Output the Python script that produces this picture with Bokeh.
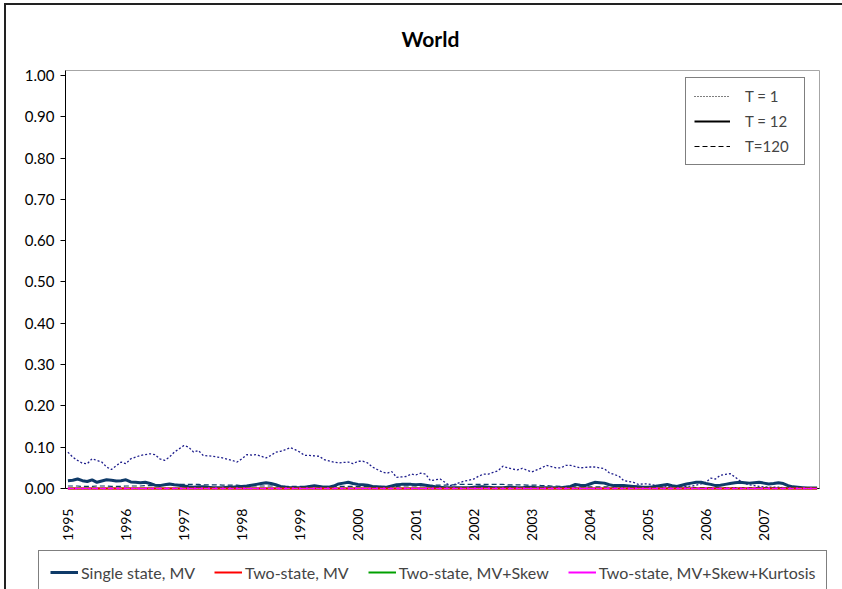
import math
from bokeh.plotting import figure
from bokeh.layouts import column, row
from bokeh.models import Legend, LegendItem, FixedTicker, Range1d, NumeralTickFormatter
from bokeh.embed import file_html
from bokeh.resources import INLINE

# ---------------- data ----------------
years = ["1995", "1996", "1997", "1998", "1999", "2000", "2001",
         "2002", "2003", "2004", "2005", "2006", "2007"]
y_ticks = [0.0, 0.1, 0.2, 0.3, 0.4, 0.5, 0.6, 0.7, 0.8, 0.9, 1.0]

# Single state, MV  (monthly, Jan 1995 - Dec 2007)
single_T1 = [
    0.088, 0.076, 0.068, 0.061, 0.060, 0.072, 0.068, 0.064, 0.052, 0.046,
    0.055, 0.064, 0.060, 0.072, 0.076, 0.080, 0.082, 0.084, 0.082, 0.072,
    0.068, 0.076, 0.088, 0.096, 0.104, 0.100, 0.088, 0.092, 0.080, 0.079,
    0.078, 0.076, 0.074, 0.071, 0.068, 0.064, 0.072, 0.082, 0.081, 0.082,
    0.078, 0.074, 0.080, 0.088, 0.090, 0.094, 0.099, 0.094, 0.088, 0.080,
    0.080, 0.079, 0.078, 0.070, 0.067, 0.064, 0.062, 0.063, 0.064, 0.060,
    0.066, 0.066, 0.062, 0.052, 0.046, 0.040, 0.037, 0.041, 0.027, 0.028,
    0.029, 0.035, 0.033, 0.037, 0.035, 0.019, 0.021, 0.023, 0.015, 0.007,
    0.010, 0.014, 0.018, 0.020, 0.023, 0.030, 0.035, 0.035, 0.039, 0.043,
    0.054, 0.050, 0.047, 0.045, 0.049, 0.044, 0.040, 0.045, 0.050, 0.056,
    0.053, 0.050, 0.050, 0.056, 0.056, 0.053, 0.050, 0.051, 0.052, 0.052,
    0.050, 0.048, 0.038, 0.034, 0.030, 0.019, 0.017, 0.015, 0.010, 0.011,
    0.011, 0.009, 0.007, 0.006, 0.005, 0.006, 0.005, 0.004, 0.005, 0.006,
    0.008, 0.011, 0.015, 0.025, 0.023, 0.032, 0.034, 0.036, 0.028, 0.019,
    0.012, 0.009, 0.007, 0.005, 0.004, 0.003, 0.003, 0.003, 0.002, 0.002,
    0.002, 0.002, 0.001, 0.001, 0.001, 0.001,
]
single_T12 = [
    0.019, 0.020, 0.023, 0.019, 0.017, 0.021, 0.015, 0.018, 0.021, 0.020,
    0.018, 0.019, 0.021, 0.016, 0.015, 0.014, 0.015, 0.012, 0.008, 0.007,
    0.009, 0.011, 0.009, 0.008, 0.006, 0.004, 0.003, 0.004, 0.004, 0.003,
    0.002, 0.002, 0.002, 0.003, 0.003, 0.004, 0.005, 0.006, 0.008, 0.010,
    0.012, 0.014, 0.012, 0.009, 0.005, 0.003, 0.002, 0.002, 0.002, 0.003,
    0.005, 0.007, 0.005, 0.003, 0.003, 0.006, 0.011, 0.013, 0.015, 0.012,
    0.010, 0.009, 0.008, 0.005, 0.004, 0.003, 0.003, 0.006, 0.009, 0.010,
    0.010, 0.010, 0.009, 0.010, 0.008, 0.006, 0.004, 0.003, 0.002, 0.002,
    0.002, 0.002, 0.002, 0.002, 0.003, 0.004, 0.004, 0.003, 0.002, 0.002,
    0.002, 0.003, 0.003, 0.002, 0.002, 0.003, 0.003, 0.002, 0.002, 0.002,
    0.002, 0.002, 0.002, 0.003, 0.005, 0.010, 0.008, 0.007, 0.011, 0.015,
    0.014, 0.013, 0.009, 0.007, 0.007, 0.007, 0.006, 0.005, 0.004, 0.003,
    0.003, 0.004, 0.006, 0.008, 0.010, 0.007, 0.005, 0.008, 0.011, 0.013,
    0.015, 0.015, 0.012, 0.010, 0.007, 0.008, 0.010, 0.012, 0.014, 0.015,
    0.014, 0.013, 0.014, 0.015, 0.013, 0.011, 0.012, 0.014, 0.012, 0.007,
    0.004, 0.003, 0.002, 0.001, 0.001, 0.001,
]
single_T120 = [
    0.006, 0.006, 0.006, 0.005, 0.005, 0.005, 0.006, 0.006, 0.006, 0.005,
    0.005, 0.005, 0.006, 0.006, 0.006, 0.006, 0.007, 0.007, 0.007, 0.008,
    0.008, 0.009, 0.009, 0.010, 0.010, 0.010, 0.010, 0.010, 0.009, 0.009,
    0.009, 0.009, 0.008, 0.008, 0.008, 0.008, 0.007, 0.007, 0.007, 0.006,
    0.006, 0.006, 0.006, 0.006, 0.006, 0.005, 0.005, 0.005, 0.005, 0.005,
    0.005, 0.005, 0.005, 0.005, 0.005, 0.005, 0.005, 0.005, 0.005, 0.005,
    0.005, 0.005, 0.005, 0.005, 0.005, 0.005, 0.005, 0.005, 0.005, 0.006,
    0.006, 0.006, 0.006, 0.006, 0.007, 0.007, 0.008, 0.008, 0.008, 0.009,
    0.009, 0.010, 0.010, 0.010, 0.010, 0.010, 0.010, 0.010, 0.010, 0.010,
    0.010, 0.009, 0.009, 0.009, 0.009, 0.008, 0.008, 0.008, 0.007, 0.007,
    0.006, 0.006, 0.005, 0.005, 0.005, 0.004, 0.004, 0.004, 0.004, 0.004,
    0.004, 0.004, 0.004, 0.003, 0.003, 0.003, 0.003, 0.003, 0.003, 0.003,
    0.003, 0.003, 0.003, 0.003, 0.003, 0.003, 0.003, 0.003, 0.003, 0.003,
    0.002, 0.002, 0.002, 0.002, 0.002, 0.002, 0.002, 0.002, 0.002, 0.002,
    0.002, 0.002, 0.002, 0.002, 0.002, 0.002, 0.002, 0.002, 0.002, 0.002,
    0.002, 0.002, 0.002, 0.002, 0.002, 0.002,
]
# Two-state models: all weights read as zero over the whole period
two_state_mv = [0.0] * len(single_T1)
two_state_skew = [0.0] * len(single_T1)
two_state_kurt = [0.0] * len(single_T1)

month_index = list(range(len(single_T1)))
year_tick_pos = [12 * i for i in range(len(years))]

FONT = "Lato"
NAVY = "#0E3A68"
RED = "#FF0000"
GREEN = "#00A000"
MAGENTA = "#FF00FF"
NAN = float("nan")
DOT = "2 2"
DASH = "5 3"

# ---------------- main figure ----------------
p = figure(width=836, height=542, output_backend="svg", toolbar_location=None,
           x_range=Range1d(-0.5, len(month_index) - 0.5), y_range=Range1d(0, 1.012),
           min_border_left=59, min_border_right=23, min_border_top=65,
           min_border_bottom=59)
p.title.text = "World"
p.title.align = "left"
p.title.offset = 336
p.title.vertical_align = "middle"
p.title.text_font = FONT
p.title.text_font_size = "21px"
p.title.text_font_style = "bold"
p.title.text_color = "#000000"
p.title.standoff = 38

p.outline_line_color = "#A6A6A6"
p.xgrid.visible = False
p.ygrid.visible = False
p.background_fill_color = "white"
p.border_fill_color = "white"

p.yaxis.ticker = FixedTicker(ticks=y_ticks)
p.yaxis.formatter = NumeralTickFormatter(format="0.00")
p.yaxis.major_tick_in = 0
p.yaxis.major_tick_out = 5
p.yaxis.minor_tick_line_color = None
p.yaxis.axis_line_color = "black"
p.yaxis.major_tick_line_color = "black"
p.yaxis.major_label_text_font = FONT
p.yaxis.major_label_text_font_size = "15px"
p.yaxis.major_label_text_color = "black"
p.yaxis.major_label_standoff = 6

p.xaxis.ticker = FixedTicker(ticks=year_tick_pos)
p.xaxis.major_label_overrides = {pos: lab for pos, lab in zip(year_tick_pos, years)}
p.xaxis.major_label_orientation = math.pi / 2
p.xaxis.major_tick_line_color = None
p.xaxis.minor_tick_line_color = None
p.xaxis.major_tick_in = 0
p.xaxis.major_tick_out = 0
p.xaxis.axis_line_color = "black"
p.xaxis.major_label_text_font = FONT
p.xaxis.major_label_text_font_size = "14px"
p.xaxis.major_label_text_color = "black"
p.xaxis.major_label_standoff = 20

# series lines
r_s120 = p.line(month_index, single_T120, color=NAVY, line_width=1.2, line_dash=DASH)
r_s1 = p.line(month_index, single_T1, color="#1E1E8C", line_width=1.3, line_dash=DOT)
r_s12 = p.line(month_index, single_T12, color=NAVY, line_width=3)

p.line(month_index, two_state_skew, color=GREEN, line_width=1, line_dash=DOT, level="overlay")
p.line(month_index, two_state_skew, color=GREEN, line_width=2, level="overlay")
p.line(month_index, two_state_skew, color=GREEN, line_width=1, line_dash=DASH, level="overlay")
p.line(month_index, two_state_mv, color=RED, line_width=1, line_dash=DOT, level="overlay")
p.line(month_index, two_state_mv, color=RED, line_width=2, level="overlay")
p.line(month_index, two_state_mv, color=RED, line_width=1, line_dash=DASH, level="overlay")
p.line(month_index, two_state_kurt, color=MAGENTA, line_width=1, line_dash=DASH, level="overlay")
p.line(month_index, two_state_kurt, color=MAGENTA, line_width=1, line_dash=DOT, level="overlay")
p.line(month_index, two_state_kurt, color=MAGENTA, line_width=2, line_dash="2 5", level="overlay")

# legend-only renderers (no visible data) for the horizon styles
d1 = p.line([0, 1], [NAN, NAN], color="black", line_width=1.2, line_dash="1 2")
d12 = p.line([0, 1], [NAN, NAN], color="black", line_width=2)
d120 = p.line([0, 1], [NAN, NAN], color="black", line_width=1, line_dash=DASH)

leg_T = Legend(items=[LegendItem(label="T = 1", renderers=[d1]),
                      LegendItem(label="T = 12", renderers=[d12]),
                      LegendItem(label="T=120", renderers=[d120])],
               location=(620, 323), orientation="vertical",
               border_line_color="black", border_line_width=1,
               background_fill_color="white", background_fill_alpha=1,
               label_text_font=FONT, label_text_font_size="15px",
               glyph_width=36, glyph_height=20, label_height=20, label_width=51,
               label_standoff=15, spacing=5, padding=8, margin=0)
p.add_layout(leg_T, "center")

# ---------------- legend strip ----------------
q = figure(width=836, height=42, output_backend="svg", toolbar_location=None,
           x_range=Range1d(0, 1), y_range=Range1d(0, 1),
           x_axis_location=None, y_axis_location=None,
           min_border_left=0, min_border_right=0, min_border_top=0, min_border_bottom=0)
q.outline_line_color = None
q.xgrid.visible = False
q.ygrid.visible = False
q.background_fill_color = "white"
q.border_fill_color = "white"

e1 = q.line([0, 1], [NAN, NAN], color=NAVY, line_width=3)
e2 = q.line([0, 1], [NAN, NAN], color=RED, line_width=2)
e3 = q.line([0, 1], [NAN, NAN], color=GREEN, line_width=2)
e4 = q.line([0, 1], [NAN, NAN], color=MAGENTA, line_width=2)

leg_M = Legend(items=[LegendItem(label="Single state, MV", renderers=[e1]),
                      LegendItem(label="Two-state, MV", renderers=[e2]),
                      LegendItem(label="Two-state, MV+Skew", renderers=[e3]),
                      LegendItem(label="Two-state, MV+Skew+Kurtosis", renderers=[e4])],
               location=(32, -5), orientation="horizontal",
               border_line_color="black", border_line_width=1,
               background_fill_color="white", background_fill_alpha=1,
               label_text_font=FONT, label_text_font_size="16px",
               glyph_width=28, glyph_height=20, label_height=20,
               label_standoff=3, spacing=19, padding=11, margin=0)
q.add_layout(leg_M, "center")

layout = column(p, row(q, spacing=0), spacing=0)
layout.styles = {"margin-left": "4px", "margin-top": "3px",
                 "border-top": "2px solid #222222", "border-left": "2px solid #222222"}

open("out.html", "w").write(file_html(layout, INLINE))
